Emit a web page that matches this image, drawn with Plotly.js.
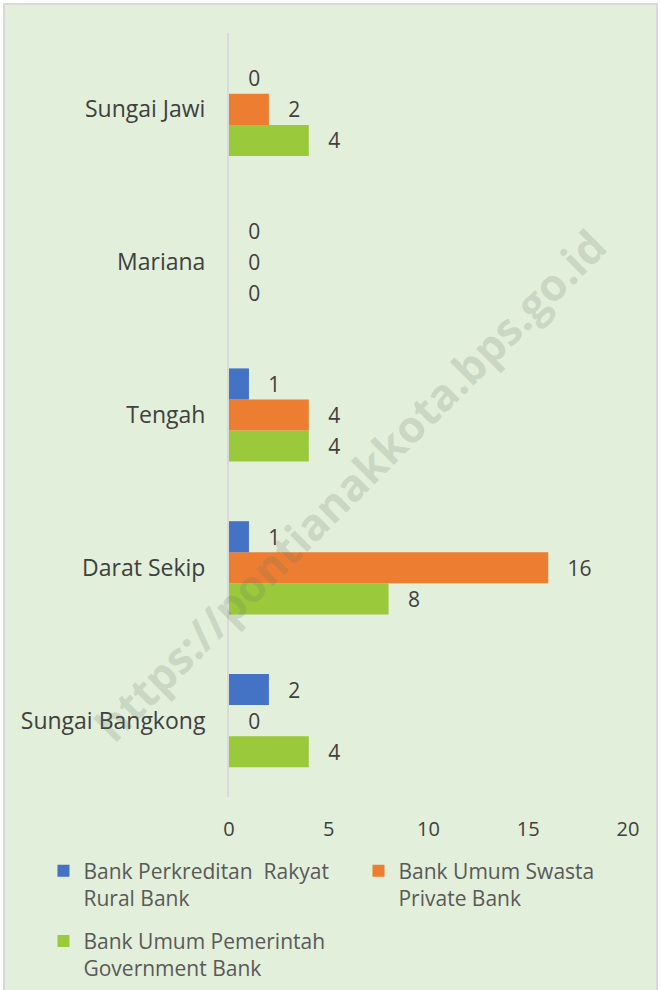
<!DOCTYPE html>
<html>
<head>
<meta charset="utf-8">
<script src="https://cdn.plot.ly/plotly-3.0.1.min.js"></script>
<style>html,body{margin:0;padding:0;background:#fff;}#chart{width:661px;height:990px;}</style>
</head>
<body>
<div id="chart"></div>
<script>
const categories = ["Sungai Bangkong", "Darat Sekip", "Tengah", "Mariana", "Sungai Jawi"];
const ruralBank = [2, 1, 1, 0, 0];
const privateBank = [0, 16, 4, 0, 2];
const governmentBank = [4, 8, 4, 0, 4];
const seriesNames = [
  "Bank Perkreditan  Rakyat<br>Rural Bank",
  "Bank Umum Swasta<br>Private Bank",
  "Bank Umum Pemerintah<br>Government Bank"
];
const xTicks = [0, 5, 10, 15, 20];
const watermark = "https://pontianakkota.bps.go.id";

const FONT = "Open Sans, Noto Sans, sans-serif";
const TXT = "#404040";

function barTrace(vals, name, color, legendId, rank) {
  return {
    type: "bar", orientation: "h",
    y: categories, x: vals, name: name,
    legend: legendId, legendrank: rank,
    marker: {color: color, line: {color: color, width: 0}},
    text: vals.map(v => "\u00a0\u00a0\u00a0" + v),
    textposition: "outside",
    textfont: {family: FONT, size: 21, color: TXT},
    constraintext: "none",
    cliponaxis: false,
    hoverinfo: "x+y"
  };
}

const data = [
  barTrace(governmentBank, seriesNames[2], "#9aca3c", "legend2", 3),
  barTrace(privateBank, seriesNames[1], "#ed7d31", "legend", 2),
  barTrace(ruralBank, seriesNames[0], "#4472c4", "legend", 1)
];

const legendBase = {
  orientation: "h",
  xanchor: "left", yanchor: "top",
  valign: "top",
  entrywidth: 270, entrywidthmode: "pixels",
  font: {family: FONT, size: 21, color: "#595959"},
  bgcolor: "rgba(0,0,0,0)",
  borderwidth: 0
};

const layout = {
  width: 661, height: 990,
  margin: {l: 229, r: 33, t: 33, b: 193, autoexpand: false},
  paper_bgcolor: "#ffffff",
  plot_bgcolor: "rgba(0,0,0,0)",
  font: {family: FONT, color: TXT, size: 20},
  barmode: "group",
  bargap: 0.39,
  bargroupgap: 0,
  showlegend: true,
  legend: Object.assign({}, legendBase, {x: -0.465, y: -0.07}),
  legend2: Object.assign({}, legendBase, {x: -0.465, y: -0.162}),
  xaxis: {
    range: [0, 20],
    tickvals: xTicks,
    ticktext: xTicks.map(String),
    showgrid: false, zeroline: false, showline: false,
    ticks: "", ticklabelstandoff: 18,
    tickfont: {family: FONT, size: 20, color: TXT},
    fixedrange: true
  },
  yaxis: {
    type: "category",
    categoryorder: "array", categoryarray: categories,
    showgrid: false, zeroline: false,
    showline: true, linecolor: "#d9d9d9", linewidth: 2,
    ticks: "", ticklabelstandoff: 17,
    tickfont: {family: FONT, size: 23, color: TXT},
    fixedrange: true
  },
  shapes: [{
    type: "rect", xref: "paper", yref: "paper", layer: "below",
    x0: -0.5639, x1: 1.0727, y0: -0.27, y1: 1.038,
    fillcolor: "#e2efda", line: {color: "#d9d9d9", width: 2}
  }],
  annotations: [{
    text: "<b>" + watermark + "</b>",
    xref: "paper", yref: "paper",
    x: 0.303, y: 0.408, xanchor: "center", yanchor: "middle",
    showarrow: false, textangle: -45,
    font: {family: FONT, size: 44, color: "rgba(100,115,100,0.2)"}
  }]
};

Plotly.newPlot("chart", data, layout, {displayModeBar: false, staticPlot: true});
</script>
</body>
</html>
